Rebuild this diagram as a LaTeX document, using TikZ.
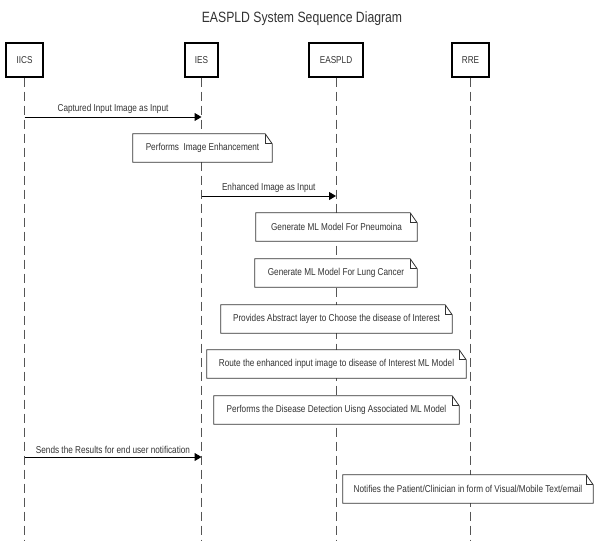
\documentclass[tikz,border=0pt]{standalone}
\usepackage{fontspec}
\setmainfont[FakeStretch=0.82]{Liberation Sans}
\usetikzlibrary{arrows.meta}
\definecolor{txtgray}{HTML}{333333}
\definecolor{linegray}{HTML}{555555}
% outline of a note with its folded corner
\newcommand{\notefold}[1]{%
    \draw[notebox] (#1.south west) -- (#1.north west) -- ([xshift=-7pt]#1.north east)
        -- ([yshift=-10pt]#1.north east) -- (#1.south east) -- cycle;
    \draw[notebox] ([xshift=-7pt]#1.north east) -- ([xshift=-7pt,yshift=-10pt]#1.north east)
        -- ([yshift=-10pt]#1.north east);
}

\begin{document}
\begin{tikzpicture}[x=1pt,y=-1pt,
        every node/.style={font=\fontsize{10}{12}\selectfont, text=txtgray},
        actor/.style={draw=black, line width=1.4pt, minimum width=#1, minimum height=34pt, inner sep=0pt},
        lifeline/.style={draw=linegray, dash pattern=on 9pt off 5pt, line width=0.9pt},
        msg/.style={draw=black, line width=1pt, -{Triangle[length=7pt,width=8pt]}},
        msglabel/.style={above=0pt},
        notenode/.style={fill=white, minimum width=#1, minimum height=28pt, inner sep=0pt},
        notebox/.style={draw=black!80, line width=0.8pt}]
        \useasboundingbox (0,0) rectangle (594,541);

        \node[font=\fontsize{14.9}{17}\selectfont] (title) at (302,19) {EASPLD System Sequence Diagram};

        % participants
        \node[actor=37pt] (iics) at (24.5,60) {IICS};
        \node[actor=33pt] (ies) at (201.5,60) {IES};
        \node[actor=54pt] (easpld) at (336,60) {EASPLD};
        \node[actor=37pt] (rre) at (470.5,60) {RRE};

        % lifelines
        \coordinate (bottom) at (0,541);
        \draw[lifeline] (iics.south) -- (iics.south |- bottom);
        \draw[lifeline] (ies.south) -- (ies.south |- bottom);
        \draw[lifeline] (easpld.south) -- (easpld.south |- bottom);
        \draw[lifeline] (rre.south) -- (rre.south |- bottom);

        % messages
        \coordinate (capt) at (0,117);
        \draw[msg] (iics |- capt) -- node[msglabel] {Captured Input Image as Input} (ies |- capt);
        \coordinate (enhin) at (0,196);
        \draw[msg] (ies |- enhin) -- node[msglabel] {Enhanced Image as Input} (easpld |- enhin);
        \coordinate (results) at (0,457);
        \draw[msg] (iics |- results) -- node[msglabel] {Sends the Results for end user notification} (ies |- results);

        % notes
        \node[notenode=139pt] (enhance) at (202.5,148) {Performs\ \ Image Enhancement};
        \notefold{enhance}
        \node[notenode=161pt] (pneu) at (336.5,227) {Generate ML Model For Pneumoina};
        \notefold{pneu}
        \node[notenode=162pt] (lung) at (336,273) {Generate ML Model For Lung Cancer};
        \notefold{lung}
        \node[notenode=231pt] (abstract) at (336.5,319) {Provides Abstract layer to Choose the disease of Interest};
        \notefold{abstract}
        \node[notenode=259pt] (route) at (336.5,364) {Route the enhanced input image to disease of Interest ML Model};
        \notefold{route}
        \node[notenode=245pt] (detect) at (336.5,410) {Performs the Disease Detection Uisng Associated ML Model};
        \notefold{detect}
        \node[notenode=250pt] (notify) at (468,489) {Notifies the Patient/Clinician in form of Visual/Mobile Text/email};
        \notefold{notify}
\end{tikzpicture}
\end{document}
